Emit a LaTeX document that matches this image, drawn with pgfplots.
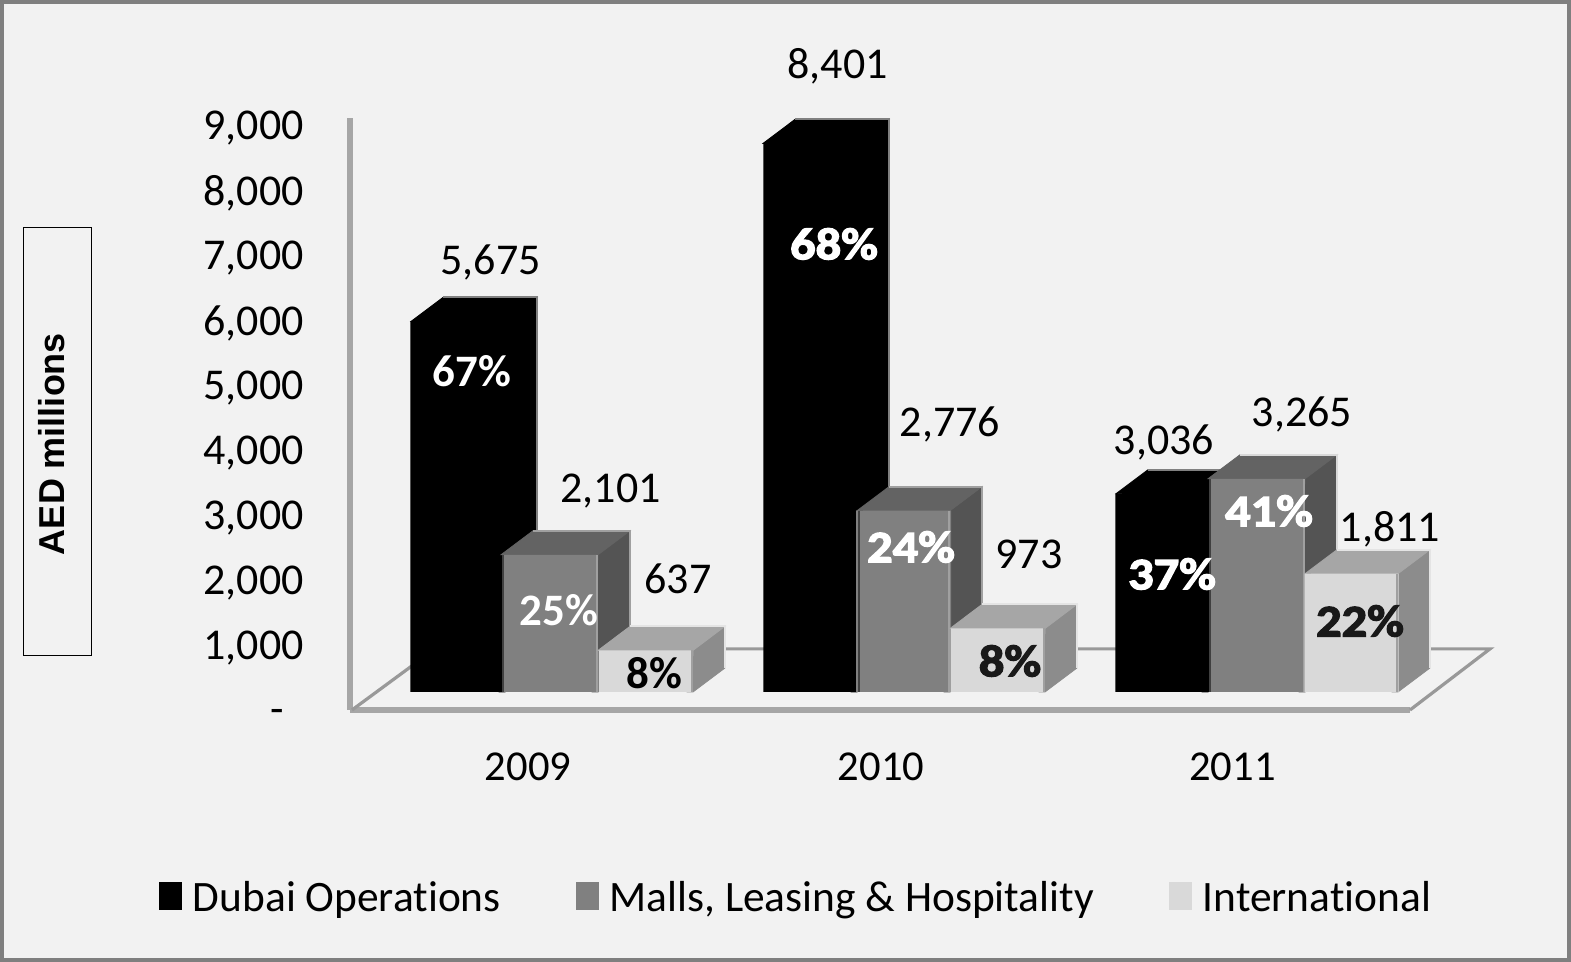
\documentclass[border=0pt]{standalone}
\usepackage{pgfplots}
\usepackage{fontspec}
\pgfplotsset{compat=1.18}
\setmainfont{Carlito}[Ligatures=NoCommon]
\newfontfamily\arialbold{Liberation Sans Bold}
\newfontface\pctplain{Carlito Bold}
\newfontface\pctheavy{Carlito Bold}[FakeBold=3,FakeStretch=1.12]
\definecolor{canvas}{HTML}{F2F2F2}
\definecolor{frame}{HTML}{7F7F7F}
\definecolor{wall}{HTML}{A6A6A6}
\definecolor{floorline}{HTML}{999999}
\definecolor{midfront}{HTML}{808080}
\definecolor{midtop}{HTML}{636363}
\definecolor{midside}{HTML}{545454}
\definecolor{midedge}{HTML}{A0A0A0}
\definecolor{lightfront}{HTML}{D9D9D9}
\definecolor{lighttop}{HTML}{A6A6A6}
\definecolor{lightside}{HTML}{8C8C8C}
\definecolor{lightedge}{HTML}{E4E4E4}
\newcommand{\lbl}{\fontsize{22}{24}\selectfont}
\newcommand{\yrs}{\fontsize{21.3}{24}\selectfont}
\newcommand{\leg}{\fontsize{21.7}{24}\selectfont}
\newcommand{\pct}{\fontsize{22.5}{24}\selectfont}

% Top and side faces of a box-shaped bar: x0, x1, value, top colour, side colour, edge colour.
% Both faces run a little way under the front face, so that no seam shows.
\newcommand{\boxfaces}[6]{%
  \pgfmathsetmacro\xb{#2+32}%
  \pgfmathsetmacro\xl{#1+32}%
  \pgfmathsetmacro\yb{#3+368}%
  \pgfmathsetmacro\xi{#2-6}%
  \pgfmathsetmacro\xk{#1+6}%
  \pgfmathsetmacro\yi{#3-80}%
  \addplot[forget plot,fill=#5,draw=#5,line width=.4pt] coordinates {(\xi,0)(#2,0)(\xb,368)(\xb,\yb)(#2,#3)(\xi,#3)} -- cycle;
  \addplot[forget plot,fill=#4,draw=#4,line width=.4pt] coordinates {(\xk,\yi)(\xk,#3)(#1,#3)(\xl,\yb)(\xb,\yb)(#2,#3)(#2,\yi)} -- cycle;
  \addplot[forget plot,#6,line width=1pt] coordinates {(\xl,\yb)(\xb,\yb)(\xb,368)};
}
% Bright rim along the front face of a bar
\newcommand{\rim}[3]{%
  \addplot[forget plot,#3,line width=1pt] coordinates {(#1,0)(#1,#2)};
}

\begin{document}
\begin{tikzpicture}
\useasboundingbox (0,0) rectangle (785.5pt,481pt);
\fill[canvas,draw=frame,line width=2pt] (1pt,1pt) rectangle (784.5pt,480pt);

% Frame of the plot: left wall, floor and tick labels
\begin{axis}[
  at={(175pt,126pt)},anchor=south west,
  scale only axis,width=530pt,height=296pt,
  xmin=350,xmax=1410,ymin=0,ymax=9107.7,
  axis lines=left,
  axis line style={-,color=wall,line width=2.6pt},
  major tick length=0pt,
  clip=false,
  ytick={0,1000,2000,3000,4000,5000,6000,7000,8000,9000},
  yticklabels={\smash{\raisebox{-5.5pt}{-}}\kern10pt\relax,{1,000},{2,000},{3,000},{4,000},{5,000},{6,000},{7,000},{8,000},{9,000}},
  xtick={528,881,1232.5},
  xticklabels={2009,2010,2011},
  yticklabel style={font=\lbl,text=black,anchor=east,inner sep=0pt,xshift=-23pt,yshift=-1.5pt},
  xticklabel style={font=\yrs,text=black,anchor=center,inner sep=0pt,yshift=-28.5pt},
]
\addplot[floorline,line width=1.6pt] coordinates {(352,0)(435,940)(1490,940)(1410,0)};
\end{axis}

% Bars, value labels, shares and legend
\begin{axis}[
  at={(0pt,0pt)},anchor=south west,
  scale only axis,width=785.5pt,height=481pt,
  xmin=0,xmax=1571,ymin=-4134.8,ymax=10597.2,
  hide axis,clip=false,
  legend columns=3,
  legend style={at={(axis cs:797,-3155)},anchor=center,draw=none,fill=none,font=\leg,inner sep=0pt,
    /tikz/every even column/.append style={column sep=35.5pt},
    /tikz/every odd column/.append style={column sep=3.5pt}},
  legend image code/.code={\fill[#1,draw=none] (0pt,-6pt) rectangle (11.5pt,8pt);},
]
% Dubai Operations
\boxfaces{411}{505}{5675}{black}{black}{midfront}
\boxfaces{763}{857}{8401}{black}{black}{midfront}
\boxfaces{1116}{1208}{3036}{black}{black}{midfront}
\addplot[ybar,bar width=46.6pt,bar shift=0pt,fill=black,draw=none]
  coordinates {(457,5675)(810,8401)(1162,3036)};
\addlegendentry{Dubai Operations}
% Malls, Leasing & Hospitality
\boxfaces{501}{598}{2101}{midtop}{midside}{midedge}
\boxfaces{857}{950}{2776}{midtop}{midside}{midedge}
\boxfaces{1208}{1305}{3265}{midtop}{midside}{lightfront}
\addplot[ybar,bar width=47.5pt,bar shift=0pt,fill=midfront,draw=none]
  coordinates {(549.5,2101)(903.5,2776)(1256.5,3265)};
\addlegendentry{Malls, Leasing \& Hospitality}
\rim{503}{2101}{black!75}
\rim{859}{2776}{black!75}
\rim{1210}{3265}{black!75}
\rim{597}{2101}{midedge}
\rim{949}{2776}{midedge}
\rim{1304}{3265}{midedge}
% International
\boxfaces{598}{693}{637}{lighttop}{lightside}{lightedge}
\boxfaces{950}{1045}{973}{lighttop}{lightside}{lightedge}
\boxfaces{1305}{1398}{1811}{lighttop}{lightside}{lightedge}
\addplot[ybar,bar width=47pt,bar shift=0pt,fill=lightfront,draw=none]
  coordinates {(645.5,637)(997.5,973)(1351.5,1811)};
\addlegendentry{International}
\rim{692}{637}{midedge}
\rim{1044}{973}{midedge}
\rim{1397}{1811}{midedge}

% Value labels
\begin{scope}[every node/.style={font=\lbl,text=black,inner sep=0pt,yshift=-1.25pt}]
\node at (axis cs:490.5,6616) {5,675};
\node at (axis cs:610.5,3115) {2,101};
\node at (axis cs:678,1770) {637};
\node at (axis cs:837.5,9617) {8,401};
\node at (axis cs:950,4135) {2,776};
\node at (axis cs:1029,2150) {973};
\node at (axis cs:1164,3859) {3,036};
\node at (axis cs:1302,4288) {3,265};
\node at (axis cs:1390,2530) {1,811};
\end{scope}

% Shares of the yearly total
\begin{scope}[every node/.style={inner sep=0pt}]
\node[text=white,font=\pct\pctplain] at (axis cs:472,4916) {67\%};
\node[text=white,font=\pct\pctplain] at (axis cs:559,1256) {25\%};
\node[text=black,font=\pct\pctplain] at (axis cs:654,291) {8\%};
\node[text=white,font=\pct\pctheavy] at (axis cs:834,6861) {68\%};
\node[text=white,font=\pct\pctheavy] at (axis cs:911,2221) {24\%};
\node[text=black!90,font=\pct\pctheavy] at (axis cs:1010,475) {8\%};
\node[text=white,font=\pct\pctheavy] at (axis cs:1172,1807) {37\%};
\node[text=white,font=\pct\pctheavy] at (axis cs:1269,2772) {41\%};
\node[text=black!90,font=\pct\pctheavy] at (axis cs:1360,1087) {22\%};
\end{scope}
\end{axis}

% Boxed axis title
\draw[black,line width=.5pt,fill=canvas] (11.75pt,153pt) rectangle (45.75pt,367pt);
\node[rotate=90,inner sep=0pt,font=\fontsize{18}{20}\selectfont\arialbold] at (26pt,259pt) {AED millions};
\end{tikzpicture}
\end{document}
